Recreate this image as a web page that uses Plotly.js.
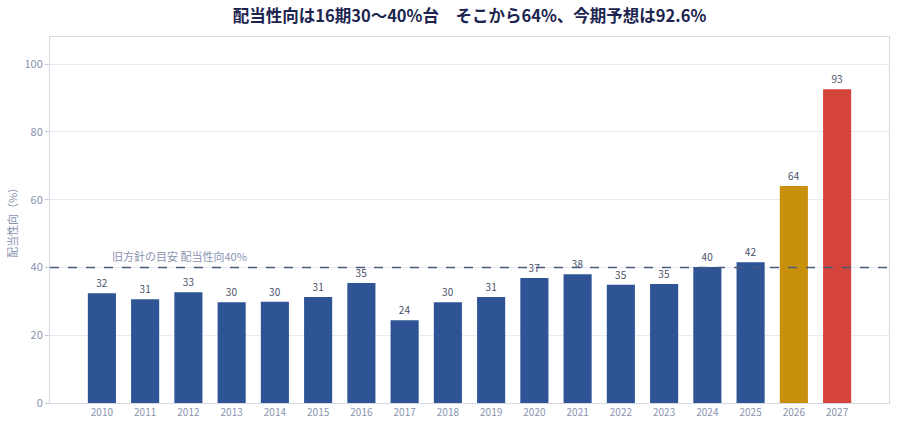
<!DOCTYPE html>
<html>
<head>
<meta charset="utf-8">
<script src="https://cdn.plot.ly/plotly-3.0.1.min.js"></script>
<style>
  html, body { margin: 0; padding: 0; background: #fff; }
  #chart { width: 900px; height: 429px; }
</style>
</head>
<body>
<div id="chart"></div>
<script>
// fiscal years and payout ratio (%)
const years = ['2010', '2011', '2012', '2013', '2014', '2015', '2016', '2017', '2018',
  '2019', '2020', '2021', '2022', '2023', '2024', '2025', '2026', '2027'];
const payout = [32.4, 30.6, 32.7, 29.7, 29.9, 31.3, 35.4, 24.4, 29.7,
  31.3, 36.9, 38.0, 34.9, 35.1, 40.1, 41.5, 64.0, 92.6];
const guideline = 40;
const guideLabel = '旧方針の目安 配当性向40%';

// past years blue, last actual gold, forecast red
const colors = years.map(function(y, i) {
  if (i === years.length - 1) return '#d5443a';
  if (i === years.length - 2) return '#c9900c';
  return '#2e5496';
});

const font = '"Noto Sans CJK JP", "Noto Sans", sans-serif';

const data = [{
  type: 'bar',
  x: years,
  y: payout,
  marker: { color: colors },
  width: 0.65,
  text: payout.map(function(v) { return Math.round(v); }),
  textposition: 'outside',
  cliponaxis: false,
  textfont: { size: 10, color: '#4a5068', family: font },
  hoverinfo: 'x+y',
}];

const layout = {
  width: 900,
  height: 429,
  font: { family: font, color: '#8a93b0' },
  title: {
    text: '配当性向は16期30～40%台　そこから64%、今期予想は92.6%',
    font: { size: 16.5, color: '#1c2550', family: font, weight: 'bold' },
    xref: 'paper',
    x: 0.5,
    y: 0.975,
    yanchor: 'top',
  },
  margin: { l: 50, r: 11, t: 37, b: 26 },
  plot_bgcolor: '#fff',
  paper_bgcolor: '#fff',
  showlegend: false,
  bargap: 0.35,
  xaxis: {
    type: 'category',
    range: [-1.2, 18.2],
    tickfont: { size: 10, color: '#8a93b0' },
    showgrid: false,
    showline: true,
    linecolor: '#d5d9e6',
    mirror: true,
    ticks: '',
  },
  yaxis: {
    range: [0, 108],
    dtick: 20,
    tickfont: { size: 11, color: '#8a93b0' },
    gridcolor: '#e8ebf3',
    zeroline: false,
    showline: true,
    linecolor: '#d5d9e6',
    mirror: true,
    ticks: 'outside',
    ticklen: 4,
    tickcolor: '#c4c9da',
    title: {
      text: '配当性向（%）',
      font: { size: 11, color: '#8a93b0' },
      standoff: 4,
    },
  },
  shapes: [{
    type: 'line',
    xref: 'paper',
    x0: 0,
    x1: 1,
    yref: 'y',
    y0: guideline,
    y1: guideline,
    line: { color: '#4a5a7a', width: 1.5, dash: 'dash' },
  }],
  annotations: [{
    xref: 'paper',
    x: 0.072,
    xanchor: 'left',
    yref: 'y',
    y: guideline,
    yanchor: 'bottom',
    yshift: 1,
    text: guideLabel,
    showarrow: false,
    font: { size: 11, color: '#8a93b0' },
  }],
};

Plotly.newPlot('chart', data, layout, { displayModeBar: false, staticPlot: true });
</script>
</body>
</html>
